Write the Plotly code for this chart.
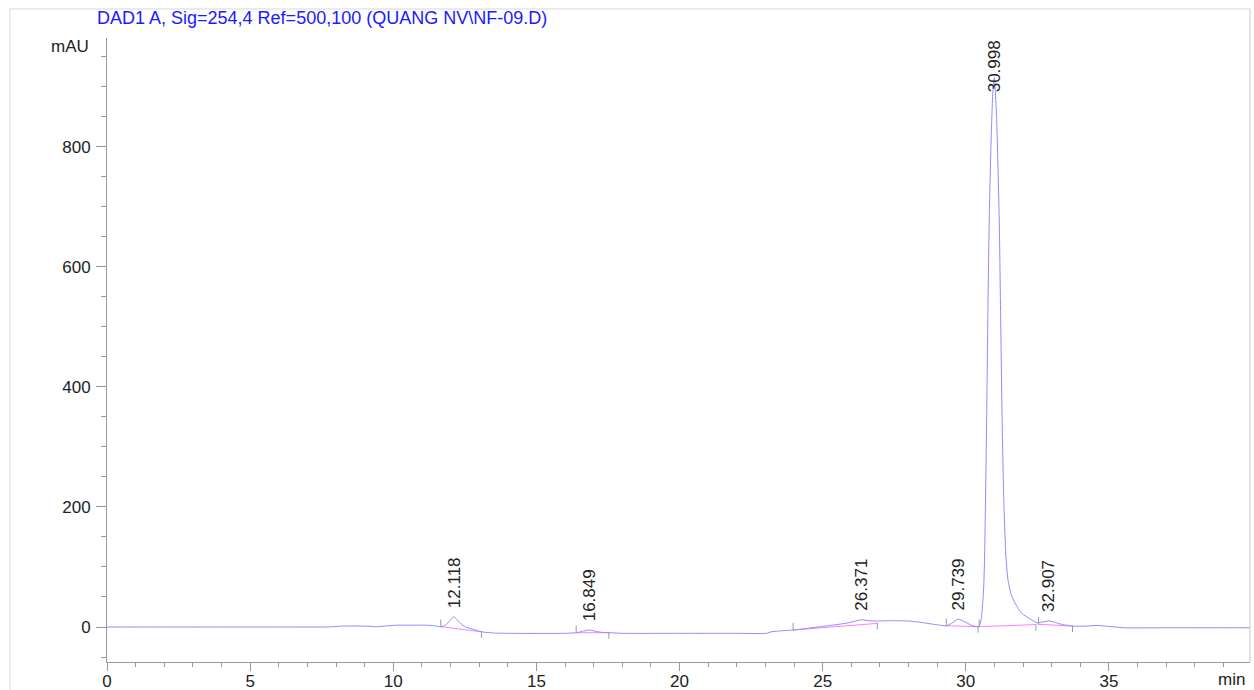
import plotly.graph_objects as go

# Chromatogram trace: retention time (min) and detector response (mAU)
time_min = [
    0.0, 2.0, 4.0, 6.0, 7.8, 8.2, 9.0, 9.41, 10.1, 10.5, 11.2, 11.5, 11.66,
    11.8, 11.95, 12.25, 12.4, 12.56, 12.8, 13.08, 13.5, 14.0,
    16.0, 16.39, 16.6, 17.1, 17.3, 17.53, 18.0, 20.0, 22.0, 23.04,
    23.2, 23.5, 23.97, 24.5, 25.0, 25.5, 25.9, 26.15, 26.6, 26.91,
    27.45, 28.0, 28.4, 28.8, 29.1, 29.32, 29.5, 29.95, 30.2, 30.43,
    30.5, 30.55, 30.6, 30.63, 30.66, 30.68, 30.73, 30.77, 30.82, 30.88, 30.95,
    31.03, 31.08, 31.17, 31.22, 31.27, 31.33, 31.40, 31.47, 31.58, 31.72, 31.95,
    32.3, 32.5, 32.7, 33.1, 33.3, 33.73, 34.2, 34.6, 35.0, 35.55, 37.0, 39.93,
]
signal_mau = [
    0.0, 0.0, 0.0, 0.0, 0.2, 1.5, 1.5, 0.5, 3.0, 3.0, 3.0, 1.5, 0.5,
    2.5, 9.0, 11.0, 4.0, -0.5, -4.0, -8.0, -10.0, -10.5,
    -10.5, -9.5, -7.5, -7.5, -9.0, -9.5, -10.5, -10.5, -10.5, -10.5,
    -8.0, -6.5, -5.0, -2.0, 1.0, 4.0, 7.0, 10.0, 10.5, 10.0,
    10.5, 10.0, 8.0, 5.0, 3.0, 2.0, 6.0, 9.0, 3.0, 0.5,
    5.0, 17.0, 45.0, 70.0, 120.0, 180.0, 345.0, 512.0, 678.0, 800.0, 895.0,
    895.0, 845.0, 678.0, 512.0, 345.0, 210.0, 120.0, 80.0, 55.0, 40.0, 23.0,
    12.0, 7.0, 8.5, 8.0, 5.0, 1.5, 1.5, 2.5, 1.0, -1.3, -1.3, -1.3,
]

# Integrated peaks: apex retention time, apex height, integration limits
peak_rt = [12.118, 16.849, 26.371, 29.739, 30.998, 32.907]
peak_height = [17.0, -5.0, 12.0, 13.0, 915.0, 10.0]
peak_start = [11.66, 16.39, 23.97, 29.32, 30.47, 32.54]
peak_end = [13.08, 17.53, 26.91, 30.43, 32.45, 33.73]
base_start = [0.5, -9.5, -5.0, 2.0, 0.5, 4.5]
base_end = [-8.0, -9.5, 6.0, 0.5, 4.0, 1.5]

x_ticks = [0, 5, 10, 15, 20, 25, 30, 35]
y_ticks = [0, 200, 400, 600, 800]

X_MAX = 39.93
Y_MIN, Y_MAX = -58.3, 981.0
FONT = "Liberation Sans, Arial, Helvetica, sans-serif"
TRACE_BLUE = "#8c8cff"
BASE_PINK = "#ff7fff"
GRAY = "#9a9a9a"

# merge the tabulated profile with the peak apexes
pts = sorted(zip(time_min + peak_rt, signal_mau + peak_height))
sig_t = [p[0] for p in pts]
sig_v = [p[1] for p in pts]

fig = go.Figure()

# integration baselines
bx, by = [], []
for s, e, b0, b1 in zip(peak_start, peak_end, base_start, base_end):
    bx += [s, e, None]
    by += [b0, b1, None]
fig.add_trace(go.Scatter(x=bx, y=by, mode="lines",
                         line=dict(color=BASE_PINK, width=1),
                         hoverinfo="skip", showlegend=False))

# chromatogram signal
fig.add_trace(go.Scatter(x=sig_t, y=sig_v, mode="lines",
                         line=dict(color=TRACE_BLUE, width=1, shape="spline",
                                   smoothing=0.6),
                         showlegend=False))

# peak start / end markers
UP, DOWN = 12.0, 10.0
tx, ty = [], []
for s, b0 in zip(peak_start, base_start):
    tx += [s, s, None]
    ty += [b0 - 1.0, b0 + UP, None]
for e, b1 in zip(peak_end, base_end):
    tx += [e, e, None]
    ty += [b1 + 1.0, b1 - DOWN, None]
fig.add_trace(go.Scatter(x=tx, y=ty, mode="lines",
                         line=dict(color=GRAY, width=1),
                         hoverinfo="skip", showlegend=False))

# retention time labels above the peaks
LABEL_GAP = 7          # px
LABEL_LEN = 88.0       # label length in mAU units
annotations = []
for rt, h in zip(peak_rt, peak_height):
    if h + LABEL_GAP / 0.6 + LABEL_LEN > Y_MAX:
        annotations.append(dict(x=rt, y=Y_MAX, xref="x", yref="y",
                                text=f"{rt:.3f}", textangle=-90, showarrow=False,
                                xanchor="center", yanchor="top",
                                font=dict(family=FONT, size=17, color="#222")))
    else:
        annotations.append(dict(x=rt, y=h, xref="x", yref="y",
                                text=f"{rt:.3f}", textangle=-90, showarrow=False,
                                xanchor="center", yanchor="bottom", yshift=LABEL_GAP,
                                font=dict(family=FONT, size=17, color="#222")))

annotations += [
    dict(text="DAD1 A, Sig=254,4 Ref=500,100 (QUANG NV\\NF-09.D)",
         xref="paper", yref="paper", x=-0.0105, y=1.032,
         xanchor="left", yanchor="middle", showarrow=False,
         font=dict(family=FONT, size=18, color="#1a1aff")),
    dict(text="mAU", xref="paper", yref="paper", x=-0.014, y=0.9856,
         xanchor="right", yanchor="middle", showarrow=False,
         font=dict(family=FONT, size=17, color="#222")),
    dict(text="min", xref="paper", yref="paper", x=0.997, y=-0.0288,
         xanchor="right", yanchor="middle", showarrow=False,
         font=dict(family=FONT, size=17, color="#222")),
]

# outer page frame
frame = dict(color="#d8d8d8", width=1)
shapes = [
    dict(type="line", xref="paper", yref="paper", x0=-0.0849, x1=-0.0849,
         y0=-0.05, y1=1.0465, line=frame),
    dict(type="line", xref="paper", yref="paper", x0=-0.0849, x1=1.0,
         y0=1.0465, y1=1.0465, line=frame),
    dict(type="line", xref="paper", yref="paper", x0=1.0, x1=1.0,
         y0=0.0, y1=1.0465, line=dict(color="#c8c8c8", width=1)),
]

fig.update_layout(
    width=1254, height=690,
    margin=dict(l=107, r=4, t=38, b=28, autoexpand=False),
    paper_bgcolor="white", plot_bgcolor="white",
    font=dict(family=FONT, size=17, color="#222"),
    annotations=annotations, shapes=shapes,
    xaxis=dict(range=[0, X_MAX], tickvals=x_ticks, showgrid=False, zeroline=False,
               automargin=False,
               showline=True, linecolor=GRAY, linewidth=1,
               ticks="outside", ticklen=8, tickcolor=GRAY,
               minor=dict(dtick=1, tick0=0, ticks="outside", ticklen=4,
                          tickcolor=GRAY, showgrid=False),
               tickfont=dict(family=FONT, size=17, color="#222"),
               ticklabelstandoff=-4),
    yaxis=dict(range=[Y_MIN, Y_MAX], tickvals=y_ticks, showgrid=False, zeroline=False,
               automargin=False,
               showline=True, linecolor=GRAY, linewidth=1,
               ticks="outside", ticklen=10, tickcolor=GRAY,
               minor=dict(dtick=50, tick0=0, ticks="outside", ticklen=5,
                          tickcolor=GRAY, showgrid=False),
               tickfont=dict(family=FONT, size=17, color="#222"),
               ticklabelstandoff=2),
)

fig.write_html("out.html")
